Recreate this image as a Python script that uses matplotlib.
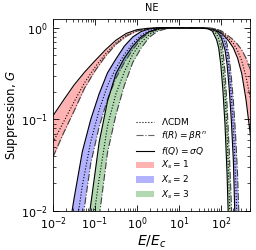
import numpy as np
import matplotlib
matplotlib.use("Agg")
import matplotlib.pyplot as plt
from matplotlib.patches import Patch
from matplotlib.lines import Line2D

# values, stored as log10(E/Ec) and log10(G)
red_logE = [-2, -1.75, -1.5, -1.25, -1, -0.75, -0.5, -0.25, 0, 0.25, 0.5, 1.0,
            1.6, 1.8, 2.0, 2.1, 2.2, 2.3, 2.4, 2.5, 2.6, 2.7, 2.8]
red_fq = [-0.96, -0.79, -0.625, -0.485, -0.36, -0.24, -0.135, -0.06, -0.02, -0.005, 0, 0,
          -0.002, -0.012, -0.055, -0.095, -0.15, -0.22, -0.33, -0.5, -0.78, -1.15, -1.6]
red_fr = [-1.41, -1.15, -0.91, -0.66, -0.47, -0.31, -0.18, -0.09, -0.035, -0.01, 0, 0,
          0, -0.005, -0.03, -0.06, -0.095, -0.13, -0.18, -0.24, -0.33, -0.45, -0.65]
red_lcdm = [-1.25, -1.03, -0.81, -0.6, -0.43, -0.285, -0.165, -0.08, -0.03, -0.008, 0, 0,
            -0.001, -0.008, -0.04, -0.075, -0.12, -0.17, -0.25, -0.36, -0.53, -0.76, -1.05]

blue_logE = [-1.7, -1.5, -1.3, -1.1, -0.9, -0.7, -0.5, -0.3, -0.1, 0.1, 0.3, 0.5, 0.7, 1.0,
             1.6, 1.8, 1.9, 2.0, 2.1, 2.15, 2.2, 2.25, 2.3, 2.35, 2.4, 2.45]
blue_fq = [-2.45, -1.87, -1.35, -1.0, -0.72, -0.49, -0.34, -0.2, -0.1, -0.04, -0.01, 0, 0, 0,
           -0.003, -0.015, -0.04, -0.09, -0.24, -0.4, -0.66, -1.0, -1.45, -2.3, -3.2, -4.0]
blue_fr = [-3.5, -2.8, -2.12, -1.48, -1.08, -0.78, -0.55, -0.38, -0.24, -0.12, -0.05, -0.015, 0, 0,
           -0.001, -0.007, -0.015, -0.04, -0.1, -0.18, -0.32, -0.53, -0.8, -1.15, -1.6, -2.3]
blue_lcdm = [-3.0, -2.35, -1.72, -1.24, -0.9, -0.63, -0.44, -0.29, -0.17, -0.08, -0.03, -0.007, 0, 0,
             -0.002, -0.01, -0.025, -0.06, -0.16, -0.27, -0.46, -0.74, -1.1, -1.6, -2.3, -3.1]

green_logE = [-1.3, -1.1, -0.9, -0.7, -0.5, -0.3, -0.1, 0.1, 0.3, 0.5, 0.7, 0.9, 1.2,
              1.5, 1.7, 1.8, 1.9, 1.95, 2.0, 2.05, 2.1, 2.15, 2.2, 2.25, 2.3]
green_fq = [-2.6, -1.93, -1.25, -0.8, -0.5, -0.33, -0.2, -0.1, -0.04, -0.01, 0, 0, 0,
            -0.002, -0.01, -0.035, -0.13, -0.22, -0.4, -0.68, -1.05, -1.6, -2.4, -3.2, -4.0]
green_fr = [-3.4, -2.7, -2.07, -1.36, -0.95, -0.63, -0.38, -0.22, -0.1, -0.035, -0.01, 0, 0,
            -0.001, -0.004, -0.01, -0.035, -0.06, -0.12, -0.24, -0.48, -0.85, -1.33, -1.9, -2.6]
green_lcdm = [-3.0, -2.3, -1.65, -1.07, -0.72, -0.48, -0.29, -0.16, -0.07, -0.02, -0.005, 0, 0,
              -0.001, -0.007, -0.02, -0.07, -0.12, -0.22, -0.42, -0.72, -1.15, -1.8, -2.5, -3.2]

bands = [
    (red_logE, red_fq, red_fr, red_lcdm, 'red'),
    (blue_logE, blue_fq, blue_fr, blue_lcdm, 'blue'),
    (green_logE, green_fq, green_fr, green_lcdm, 'green'),
]

fig = plt.figure(figsize=(2.56, 2.5), dpi=100)
ax = fig.add_axes([0.207, 0.156, 0.77, 0.768])

for logE, fq, fr, lcdm, col in bands:
    E = 10 ** np.array(logE)
    ax.fill_between(E, 10 ** np.array(fq), 10 ** np.array(fr), color=col, alpha=0.3, lw=0)
    ax.plot(E, 10 ** np.array(lcdm), color='k', ls=':', lw=0.8)
    ax.plot(E, 10 ** np.array(fr), color='0.25', ls='-.', lw=0.8)
    ax.plot(E, 10 ** np.array(fq), color='k', ls='-', lw=0.8)

ax.set_xscale('log')
ax.set_yscale('log')
ax.set_xlim(1e-2, 5e2)
ax.set_ylim(1e-2, 1.25)
ax.tick_params(which='both', direction='in', top=True, right=True, labelsize=8)
ax.tick_params(which='major', length=4, width=0.6)
ax.tick_params(which='minor', length=2, width=0.5)
for s in ax.spines.values():
    s.set_linewidth(0.6)

ax.set_title('NE', fontsize=7)
ax.set_xlabel(r'$E/E_c$', fontsize=10, labelpad=1)
ax.set_ylabel(r'Suppression, $G$', fontsize=8.5, labelpad=1)

handles = [
    Line2D([], [], color='k', ls=':', lw=0.8),
    Line2D([], [], color='0.4', ls='-.', lw=0.8),
    Line2D([], [], color='k', ls='-', lw=0.8),
    Patch(color='red', alpha=0.3, lw=0),
    Patch(color='blue', alpha=0.3, lw=0),
    Patch(color='green', alpha=0.3, lw=0),
]
labels = [r'$\Lambda$CDM', r'$f(R)=\beta R^n$', r'$f(Q)=\sigma Q$',
          r'$X_s=1$', r'$X_s=2$', r'$X_s=3$']
ax.legend(handles, labels, loc='lower left', bbox_to_anchor=(0.38, 0.01),
          fontsize=6.5, frameon=False, handlelength=2.0, handletextpad=0.8,
          labelspacing=0.25)

fig.savefig('out.png', dpi=100)
